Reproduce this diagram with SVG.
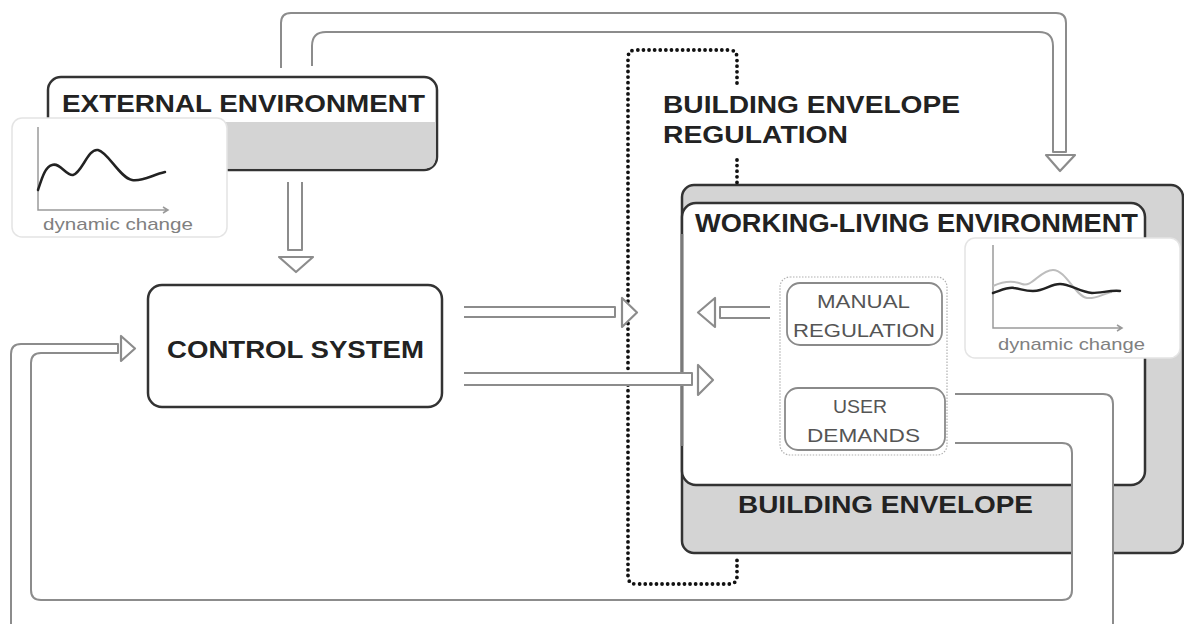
<svg xmlns="http://www.w3.org/2000/svg" width="1184" height="624" viewBox="0 0 1184 624">
<defs>
<style>
.title{font-family:"Liberation Sans",Arial,sans-serif;font-weight:bold;fill:#222;}
.small{font-family:"Liberation Sans",Arial,sans-serif;fill:#555;font-size:18px;}
.dyn{font-family:"Liberation Sans",Arial,sans-serif;fill:#808080;font-size:17px;}
.box{stroke:#333;stroke-width:2.5;}
.pipe{fill:none;stroke:#8c8c8c;stroke-width:2;stroke-linejoin:round;}
.pipefill{fill:#fff;stroke:#8c8c8c;stroke-width:2;stroke-linejoin:round;}
.head{fill:#fff;stroke:#8c8c8c;stroke-width:2.2;stroke-linejoin:round;}
.chart{fill:#fff;stroke:#e4e4e4;stroke-width:1.5;}
.axis{fill:none;stroke:#9a9a9a;stroke-width:1.5;}
.dots{fill:none;stroke:#111;stroke-width:3.8;stroke-linecap:round;stroke-dasharray:0 5.6;}
</style>
</defs>
<rect width="1184" height="624" fill="#fff"/>

<g id="external-environment">
<rect x="48" y="77" width="389" height="93" rx="13" fill="#fff" class="box"/>
<path d="M49.5,122 H435.5 V157 Q435.5,168.5 424,168.5 H61 Q49.5,168.5 49.5,157 Z" fill="#d4d4d4"/>
<text class="title" x="62" y="112" font-size="23" textLength="363" lengthAdjust="spacingAndGlyphs">EXTERNAL ENVIRONMENT</text>
</g>

<g id="external-chart">
<rect x="12" y="118" width="215" height="119" rx="10" class="chart"/>
<path class="axis" d="M38,127 V210 H168 M163,207 L168,210 L163,213"/>
<path d="M38,190 C42,178 45,167 52,165 C60,162 66,176 73,175 C82,173 88,148 98,150 C108,152 120,178 132,180 C142,182 152,175 165,172" fill="none" stroke="#222" stroke-width="2.5" stroke-linecap="round"/>
<text class="dyn" x="43" y="230" textLength="150" lengthAdjust="spacingAndGlyphs">dynamic change</text>
</g>

<g id="control-system">
<rect x="148" y="285" width="294" height="122" rx="14" fill="#fff" class="box"/>
<text class="title" x="167" y="358" font-size="23" textLength="257" lengthAdjust="spacingAndGlyphs">CONTROL SYSTEM</text>
</g>

<g id="building-envelope">
<rect x="682" y="185" width="501" height="368" rx="12" fill="#d4d4d4" class="box"/>
<text class="title" x="738" y="513" font-size="24" textLength="295" lengthAdjust="spacingAndGlyphs">BUILDING ENVELOPE</text>
</g>

<g id="working-living-environment">
<rect x="682" y="203" width="463" height="282" rx="14" fill="#fff" class="box"/>
<line x1="682" y1="234" x2="682" y2="446" stroke="#7a7a7a" stroke-width="2.6"/>
<text class="title" x="695" y="232" font-size="25" textLength="443" lengthAdjust="spacingAndGlyphs">WORKING-LIVING ENVIRONMENT</text>
</g>

<g id="working-chart">
<rect x="965" y="238" width="215" height="120" rx="10" class="chart"/>
<path class="axis" d="M993,245 V328 H1122 M1117,325 L1122,328 L1117,331"/>
<path d="M993,286 C1002,282 1012,280 1022,284 C1032,288 1040,270 1053,270 C1066,270 1075,296 1087,298 C1097,299 1104,293 1112,292" fill="none" stroke="#bdbdbd" stroke-width="2"/>
<path d="M993,293 C1002,290 1008,287 1014,288 C1022,289 1030,293 1040,290 C1048,288 1052,284 1060,284 C1070,284 1080,292 1092,293 C1102,293 1110,290 1120,291" fill="none" stroke="#222" stroke-width="2.5" stroke-linecap="round"/>
<text class="dyn" x="998" y="350" textLength="147" lengthAdjust="spacingAndGlyphs">dynamic change</text>
</g>

<g id="user-group">
<rect x="780" y="277" width="167" height="178" rx="10" fill="none" stroke="#b0b0b0" stroke-width="1.2" stroke-dasharray="1.5 1.5"/>
<g id="manual-regulation">
<rect x="787" y="283" width="155" height="62" rx="13" fill="#fff" stroke="#8a8a8a" stroke-width="1.8"/>
<text class="small" x="817" y="308" textLength="93" lengthAdjust="spacingAndGlyphs">MANUAL</text>
<text class="small" x="793" y="337" textLength="142" lengthAdjust="spacingAndGlyphs">REGULATION</text>
</g>
<g id="user-demands">
<rect x="785" y="388" width="160" height="62" rx="13" fill="#fff" stroke="#8a8a8a" stroke-width="1.8"/>
<text class="small" x="833" y="413" textLength="54" lengthAdjust="spacingAndGlyphs">USER</text>
<text class="small" x="807" y="442" textLength="113" lengthAdjust="spacingAndGlyphs">DEMANDS</text>
</g>
</g>

<g id="building-envelope-regulation">
<path class="dots" d="M737,83 V58 Q737,50 729,50 H636 Q628,50 628,58 V576 Q628,584 636,584 H729 Q737,584 737,576 V556"/>
<path class="dots" d="M737,160 V183"/>
<text class="title" x="663" y="113" font-size="24" textLength="297" lengthAdjust="spacingAndGlyphs">BUILDING ENVELOPE</text>
<text class="title" x="663" y="143" font-size="24" textLength="185" lengthAdjust="spacingAndGlyphs">REGULATION</text>
</g>

<g id="connectors">
<path class="pipe" d="M281,68 V23 Q281,13 291,13 H1056 Q1066,13 1066,23 V152 H1053 V46 Q1053,32 1039,32 H326 Q312,32 312,46 V66"/>
<path class="head" d="M1046,155 H1075 L1060,171 Z"/>
<path class="pipefill" d="M288,182 V250 H302 V182"/>
<path class="head" d="M279,257 H313 L296,272 Z"/>
<path class="pipefill" d="M464,307 H615 V317 H464"/>
<path class="head" d="M622,298 V327 L637,312.5 Z"/>
<path class="pipefill" d="M464,373 H692 V385 H464"/>
<path class="head" d="M698,365 V395 L713,380 Z"/>
<path class="pipefill" d="M770,307 H720 V318 H770"/>
<path class="head" d="M715,298 V327 L698,312.5 Z"/>
<path d="M955,394 H1103 Q1113,394 1113,404 V626 H1072 V453 Q1072,443 1062,443 H955 Z" fill="#fff"/>
<path class="pipe" d="M955,394 H1103 Q1113,394 1113,404 V630"/>
<path class="pipe" d="M955,443 H1062 Q1072,443 1072,453 V590 Q1072,600 1062,600 H41 Q31,600 31,590 V363 Q31,353 41,353 H118 V344 H21 Q11,344 11,354 V630"/>
<path class="head" d="M121,336 V361 L135,348.5 Z"/>
</g>
</svg>
